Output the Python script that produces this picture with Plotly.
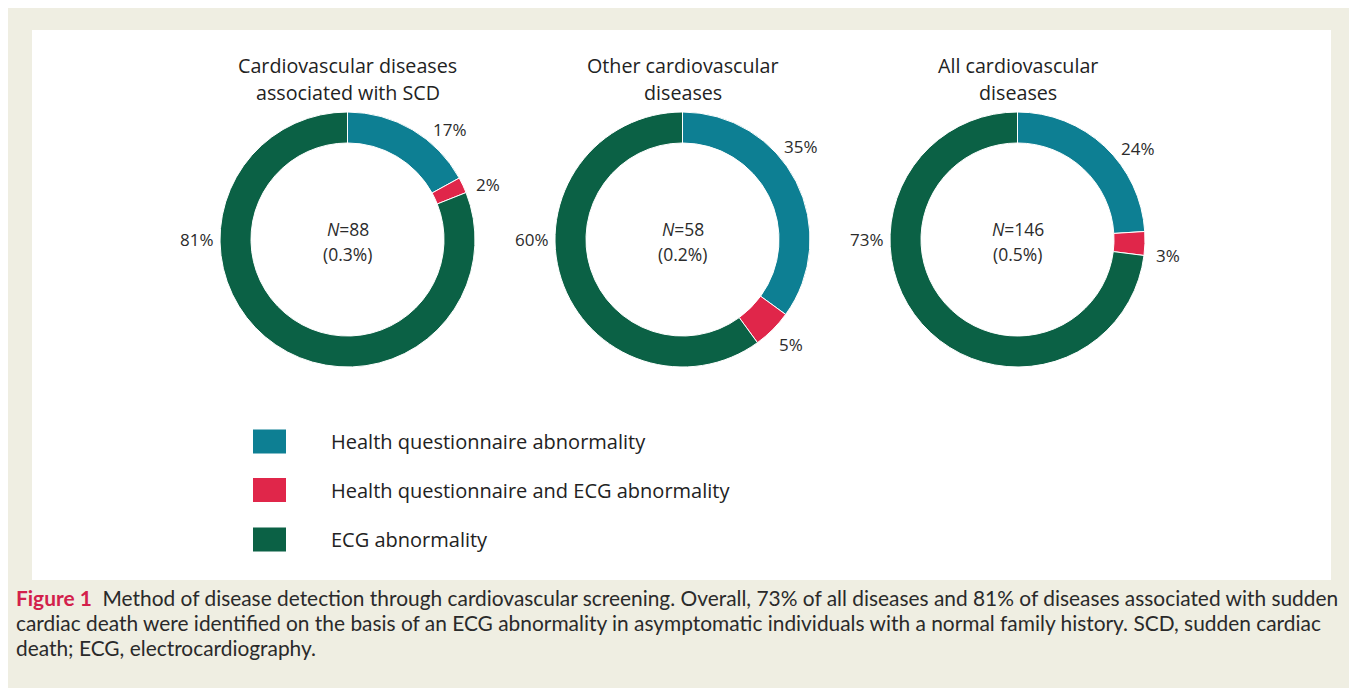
import math
import plotly.graph_objects as go

# ---- data ----
categories = ["Health questionnaire abnormality",
              "Health questionnaire and ECG abnormality",
              "ECG abnormality"]
colors = ["#0d7f93", "#e0264a", "#0b6145"]
panel_titles = [["Cardiovascular diseases", "associated with SCD"],
                ["Other cardiovascular", "diseases"],
                ["All cardiovascular", "diseases"]]
panel_n = [88, 58, 146]
panel_share = ["0.3%", "0.2%", "0.5%"]
scd_values = [17, 2, 81]
other_values = [35, 5, 60]
all_values = [24, 3, 73]
series = [scd_values, other_values, all_values]

caption_lines = [
    "<b><span style='color:#d3204b'>Figure 1</span></b>  Method of disease detection through cardiovascular screening. Overall, 73% of all diseases and 81% of diseases associated with sudden",
    "cardiac death were identified on the basis of an ECG abnormality in asymptomatic individuals with a normal family history. SCD, sudden cardiac",
    "death; ECG, electrocardiography.",
]

# ---- layout (screen pixel positions; the page body has an 8px margin) ----
OFF = 8
W, H = 1357 - OFF, 688 - OFF
FONT = "Open Sans"
CAP_FONT = "Lato"


def xp(sx):
    return (sx - OFF) / W


def yp(sy):
    return 1 - (sy - OFF) / H


centers_px = [347.5, 682.5, 1017.5]
cy_px = 239.5
R = 127.5
# label placement angles (degrees clockwise from 12 o'clock) and distance
label_angles = [[43, 68.5, 270], [52, 134, 270], [53, 96, 270]]
label_dist = 151

fig = go.Figure()

for i, vals in enumerate(series):
    cx = centers_px[i]
    fig.add_trace(go.Pie(
        labels=categories,
        values=vals,
        sort=False,
        direction="clockwise",
        rotation=0,
        hole=0.757,
        marker=dict(colors=colors, line=dict(color="white", width=1)),
        textinfo="none",
        hoverinfo="label+value",
        showlegend=False,
        domain=dict(x=[xp(cx - R), xp(cx + R)],
                    y=[yp(cy_px + R), yp(cy_px - R)]),
    ))
    # percentage labels
    for v, ang in zip(vals, label_angles[i]):
        a = math.radians(ang)
        lx = cx + label_dist * math.sin(a)
        ly = cy_px - label_dist * math.cos(a)
        fig.add_annotation(x=xp(lx), y=yp(ly), xref="paper", yref="paper",
                           text=f"{v}%", showarrow=False,
                           font=dict(family=FONT, size=17, color="#2b2b2b"),
                           xanchor="center", yanchor="middle")
    # titles
    for k, t in enumerate(panel_titles[i]):
        fig.add_annotation(x=xp(cx), y=yp(65 + k * 27), xref="paper", yref="paper",
                           text=t, showarrow=False,
                           font=dict(family=FONT, size=19.7, color="#222222"),
                           xanchor="center", yanchor="middle")
    # centre text
    fig.add_annotation(x=xp(cx), y=yp(229), xref="paper", yref="paper",
                       text=f"<i>N</i>={panel_n[i]}", showarrow=False,
                       font=dict(family=FONT, size=17.5, color="#2b2b2b"),
                       xanchor="center", yanchor="middle")
    fig.add_annotation(x=xp(cx), y=yp(254), xref="paper", yref="paper",
                       text=f"({panel_share[i]})", showarrow=False,
                       font=dict(family=FONT, size=17.5, color="#2b2b2b"),
                       xanchor="center", yanchor="middle")

shapes = [
    dict(type="rect", xref="paper", yref="paper", layer="below",
         x0=xp(32), x1=xp(1331), y0=yp(580), y1=yp(30),
         fillcolor="white", line=dict(width=0)),
]
# legend
legend_y = [441.5, 490, 539.5]
for j, (cat, col) in enumerate(zip(categories, colors)):
    yc = legend_y[j]
    shapes.append(dict(type="rect", xref="paper", yref="paper",
                       x0=xp(253), x1=xp(286),
                       y0=yp(yc + 12), y1=yp(yc - 12),
                       fillcolor=col, line=dict(width=0)))
    fig.add_annotation(x=xp(329), y=yp(yc), xref="paper", yref="paper",
                       text=cat, showarrow=False, xanchor="left", yanchor="middle",
                       font=dict(family=FONT, size=20, color="#222222"))

for k, line in enumerate(caption_lines):
    fig.add_annotation(x=xp(14), y=yp(597 + k * 25), xref="paper", yref="paper",
                       text=line, showarrow=False, xanchor="left", yanchor="middle",
                       font=dict(family=CAP_FONT, size=20.9, color="#2a2a2a"))

fig.update_layout(
    width=W, height=H,
    margin=dict(l=0, r=0, t=0, b=0),
    paper_bgcolor="#efeee2",
    plot_bgcolor="#efeee2",
    shapes=shapes,
)

fig.write_html("out.html")
